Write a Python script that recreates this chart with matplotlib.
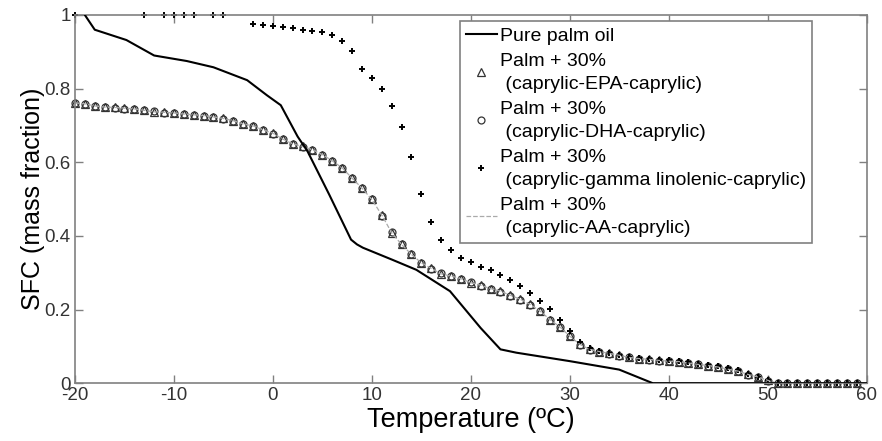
import numpy as np
import matplotlib.pyplot as plt

plt.rcParams['font.family'] = ['Liberation Sans', 'DejaVu Sans']
plt.rcParams['axes.unicode_minus'] = False

# pure palm oil (solid line)
palm_t = [-19, -18, -14.8, -12, -8.7, -6, -2.6, -0.6, 0.8, 1.5, 2.5, 3.5, 5.7,
          7.9, 8.5, 9.1, 12.1, 14.5, 17.9, 21, 23, 24.6, 30, 35, 38.4, 60]
palm_sfc = [1.0, 0.96, 0.932, 0.89, 0.875, 0.858, 0.823, 0.782, 0.755, 0.72, 0.67, 0.63, 0.512,
            0.39, 0.377, 0.368, 0.335, 0.308, 0.25, 0.15, 0.092, 0.083, 0.06, 0.037, 0.0, 0.0]

temp = np.arange(-20, 60)

epa = [0.761, 0.759, 0.753, 0.750, 0.749, 0.747, 0.745, 0.741, 0.737, 0.736,
       0.734, 0.731, 0.729, 0.727, 0.723, 0.719, 0.713, 0.704, 0.699, 0.688,
       0.679, 0.663, 0.650, 0.643, 0.634, 0.621, 0.604, 0.585, 0.557, 0.530,
       0.499, 0.458, 0.408, 0.377, 0.350, 0.327, 0.312, 0.297, 0.291, 0.284,
       0.273, 0.266, 0.257, 0.250, 0.239, 0.228, 0.214, 0.196, 0.173, 0.153,
       0.128, 0.106, 0.092, 0.086, 0.081, 0.076, 0.070, 0.067, 0.065, 0.062,
       0.060, 0.059, 0.055, 0.051, 0.048, 0.044, 0.038, 0.033, 0.024, 0.017,
       0.008, 0, 0, 0, 0, 0, 0, 0, 0, 0]

dha = [0.760, 0.758, 0.754, 0.751, 0.748, 0.746, 0.744, 0.742, 0.738, 0.735,
       0.733, 0.731, 0.728, 0.726, 0.722, 0.718, 0.712, 0.705, 0.698, 0.689,
       0.678, 0.664, 0.651, 0.642, 0.633, 0.620, 0.603, 0.584, 0.558, 0.531,
       0.500, 0.455, 0.410, 0.378, 0.351, 0.326, 0.311, 0.298, 0.290, 0.283,
       0.274, 0.265, 0.256, 0.249, 0.238, 0.227, 0.213, 0.195, 0.172, 0.152,
       0.127, 0.105, 0.091, 0.085, 0.080, 0.075, 0.071, 0.066, 0.064, 0.061,
       0.060, 0.058, 0.054, 0.051, 0.047, 0.043, 0.038, 0.032, 0.023, 0.016,
       0.007, 0, 0, 0, 0, 0, 0, 0, 0, 0]

aa = [0.761, 0.759, 0.753, 0.750, 0.749, 0.747, 0.745, 0.741, 0.737, 0.736,
      0.734, 0.731, 0.729, 0.727, 0.723, 0.719, 0.713, 0.704, 0.699, 0.688,
      0.679, 0.663, 0.650, 0.643, 0.634, 0.621, 0.604, 0.585, 0.557, 0.530,
      0.499, 0.457, 0.409, 0.377, 0.350, 0.327, 0.312, 0.297, 0.291, 0.284,
      0.273, 0.266, 0.257, 0.250, 0.239, 0.228, 0.214, 0.196, 0.173, 0.153,
      0.128, 0.106, 0.092, 0.086, 0.081, 0.076, 0.070, 0.067, 0.065, 0.062,
      0.060, 0.059, 0.055, 0.051, 0.048, 0.044, 0.038, 0.033, 0.024, 0.017,
      0.008, 0, 0, 0, 0, 0, 0, 0, 0, 0]

gla_t = [-20, -13, -11, -10, -9, -8, -6, -5] + list(range(-2, 60))
gla = [1, 1, 1, 1, 1, 1, 1, 1,
       0.976, 0.973, 0.970, 0.968, 0.964, 0.959, 0.957, 0.953, 0.946, 0.929,
       0.903, 0.853, 0.828, 0.798, 0.754, 0.697, 0.615, 0.513, 0.437, 0.390,
       0.361, 0.341, 0.330, 0.316, 0.307, 0.294, 0.280, 0.264, 0.246, 0.223,
       0.201, 0.172, 0.142, 0.112, 0.095, 0.088, 0.083, 0.078, 0.072, 0.068,
       0.066, 0.064, 0.062, 0.060, 0.057, 0.053, 0.050, 0.046, 0.040, 0.035,
       0.026, 0.018, 0.010, 0, 0, 0, 0, 0, 0, 0, 0, 0]

labels = ['Pure palm oil',
          'Palm + 30%\n (caprylic-EPA-caprylic)',
          'Palm + 30%\n (caprylic-DHA-caprylic)',
          'Palm + 30%\n (caprylic-gamma linolenic-caprylic)',
          'Palm + 30%\n (caprylic-AA-caprylic)']

fig = plt.figure(figsize=(8.82, 4.41), dpi=100)
ax = fig.add_axes([0.085, 0.131, 0.8975, 0.835])

ax.plot(palm_t, palm_sfc, color='black', lw=1.5, label=labels[0], zorder=3)
ax.plot(temp, epa, linestyle='none', marker='^', ms=5.5, mfc='none', mec='#333333',
        mew=0.9, label=labels[1], clip_on=False)
ax.plot(temp, dha, linestyle='none', marker='o', ms=5, mfc='none', mec='#333333',
        mew=0.9, label=labels[2], clip_on=False)
ax.plot(gla_t, gla, linestyle='none', marker='+', ms=5, color='black',
        mew=1.4, label=labels[3], clip_on=False)
ax.plot(temp, aa, linestyle='--', color='#aaaaaa', lw=0.9, label=labels[4])

ax.set_xlim(-20, 60)
ax.set_ylim(0, 1)
ax.set_xticks(np.arange(-20, 61, 10))
ax.set_yticks([0, 0.2, 0.4, 0.6, 0.8, 1])
ax.set_yticklabels(['0', '0.2', '0.4', '0.6', '0.8', '1'])

for s in ax.spines.values():
    s.set_color('#808080')
    s.set_linewidth(1.2)
ax.tick_params(direction='in', top=True, right=True, length=6, width=1,
               color='#808080', labelsize=13.5, labelcolor='#333333', pad=3)

ax.set_xlabel('Temperature (ºC)', fontsize=19.5, labelpad=2)
ax.set_ylabel('SFC (mass fraction)', fontsize=18, labelpad=0)

leg = ax.legend(loc='upper left', bbox_to_anchor=(0.486, 0.9845), borderaxespad=0,
                fontsize=14, fancybox=False, edgecolor='#808080', framealpha=1,
                handlelength=1.6, handletextpad=0.15, labelspacing=0.42,
                borderpad=0.32)
for t in leg.get_texts():
    t.set_linespacing(1.45)
leg.get_frame().set_linewidth(1.2)

plt.savefig('out.png')
